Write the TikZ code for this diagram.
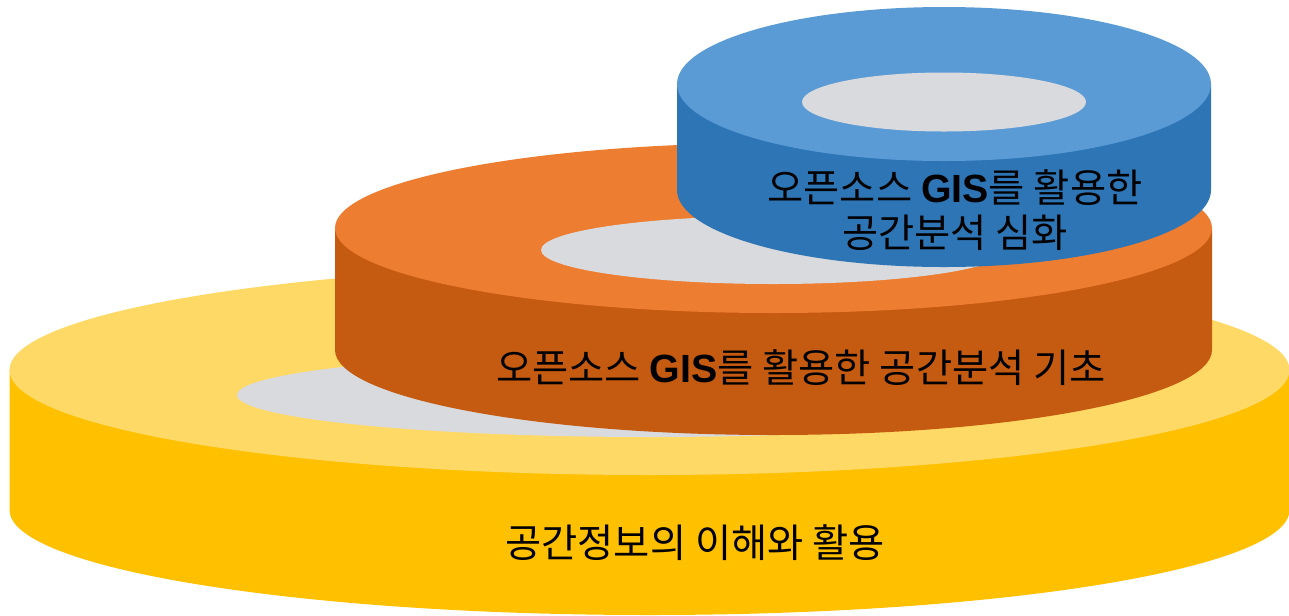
\documentclass[tikz,border=0pt]{standalone}
\usepackage{fontspec}
\setmainfont{Noto Sans CJK KR}
\newfontfamily\latinfont{Liberation Sans}
\definecolor{ytop}{HTML}{FFD966}
\definecolor{yside}{HTML}{FFC000}
\definecolor{otop}{HTML}{ED7D31}
\definecolor{oside}{HTML}{C55A11}
\definecolor{btop}{HTML}{5B9BD5}
\definecolor{bside}{HTML}{2E75B6}
\definecolor{holegray}{HTML}{D9DADD}
\newcommand\gis{{\latinfont\bfseries GIS}}
\tikzset{
  lbl/.style={font=\fontsize{29.5}{34}\selectfont, text=black, align=center, inner sep=0pt},
  hole/.style={fill=holegray}
}
\begin{document}
\begin{tikzpicture}[x=0.75pt,y=0.75pt]
\useasboundingbox (0,0) rectangle (1289,-615);
% yellow disc
\fill[yside] (9.5,-370) -- (9.5,-510) arc[start angle=180,end angle=360,x radius=640,y radius=105] -- (1289.5,-370) -- cycle;
\fill[ytop] (649.5,-370) ellipse[x radius=640,y radius=105];
\fill[hole] (650,-395) ellipse[x radius=413,y radius=42];
\node[lbl] (ytext) at (695,-543) {공간정보의 이해와 활용};
% orange disc
\fill[oside] (335,-228) -- (335,-350) arc[start angle=180,end angle=360,x radius=438.5,y radius=85] -- (1212,-228) -- cycle;
\fill[otop] (773.5,-228) ellipse[x radius=438.5,y radius=85];
\fill[hole] (773.5,-250) ellipse[x radius=232.5,y radius=34];
\node[lbl] (otext) at (801,-368) {오픈소스 \gis{}를 활용한 공간분석 기초};
% blue disc
\fill[bside] (677,-84) -- (677,-190) arc[start angle=180,end angle=360,x radius=267,y radius=77] -- (1211,-84) -- cycle;
\fill[btop] (944,-84) ellipse[x radius=267,y radius=77];
\fill[hole] (944,-102) ellipse[x radius=142,y radius=29.5];
\node[lbl] (btext) at (955,-210) {오픈소스 \gis{}를 활용한\\공간분석 심화};
\end{tikzpicture}
\end{document}
